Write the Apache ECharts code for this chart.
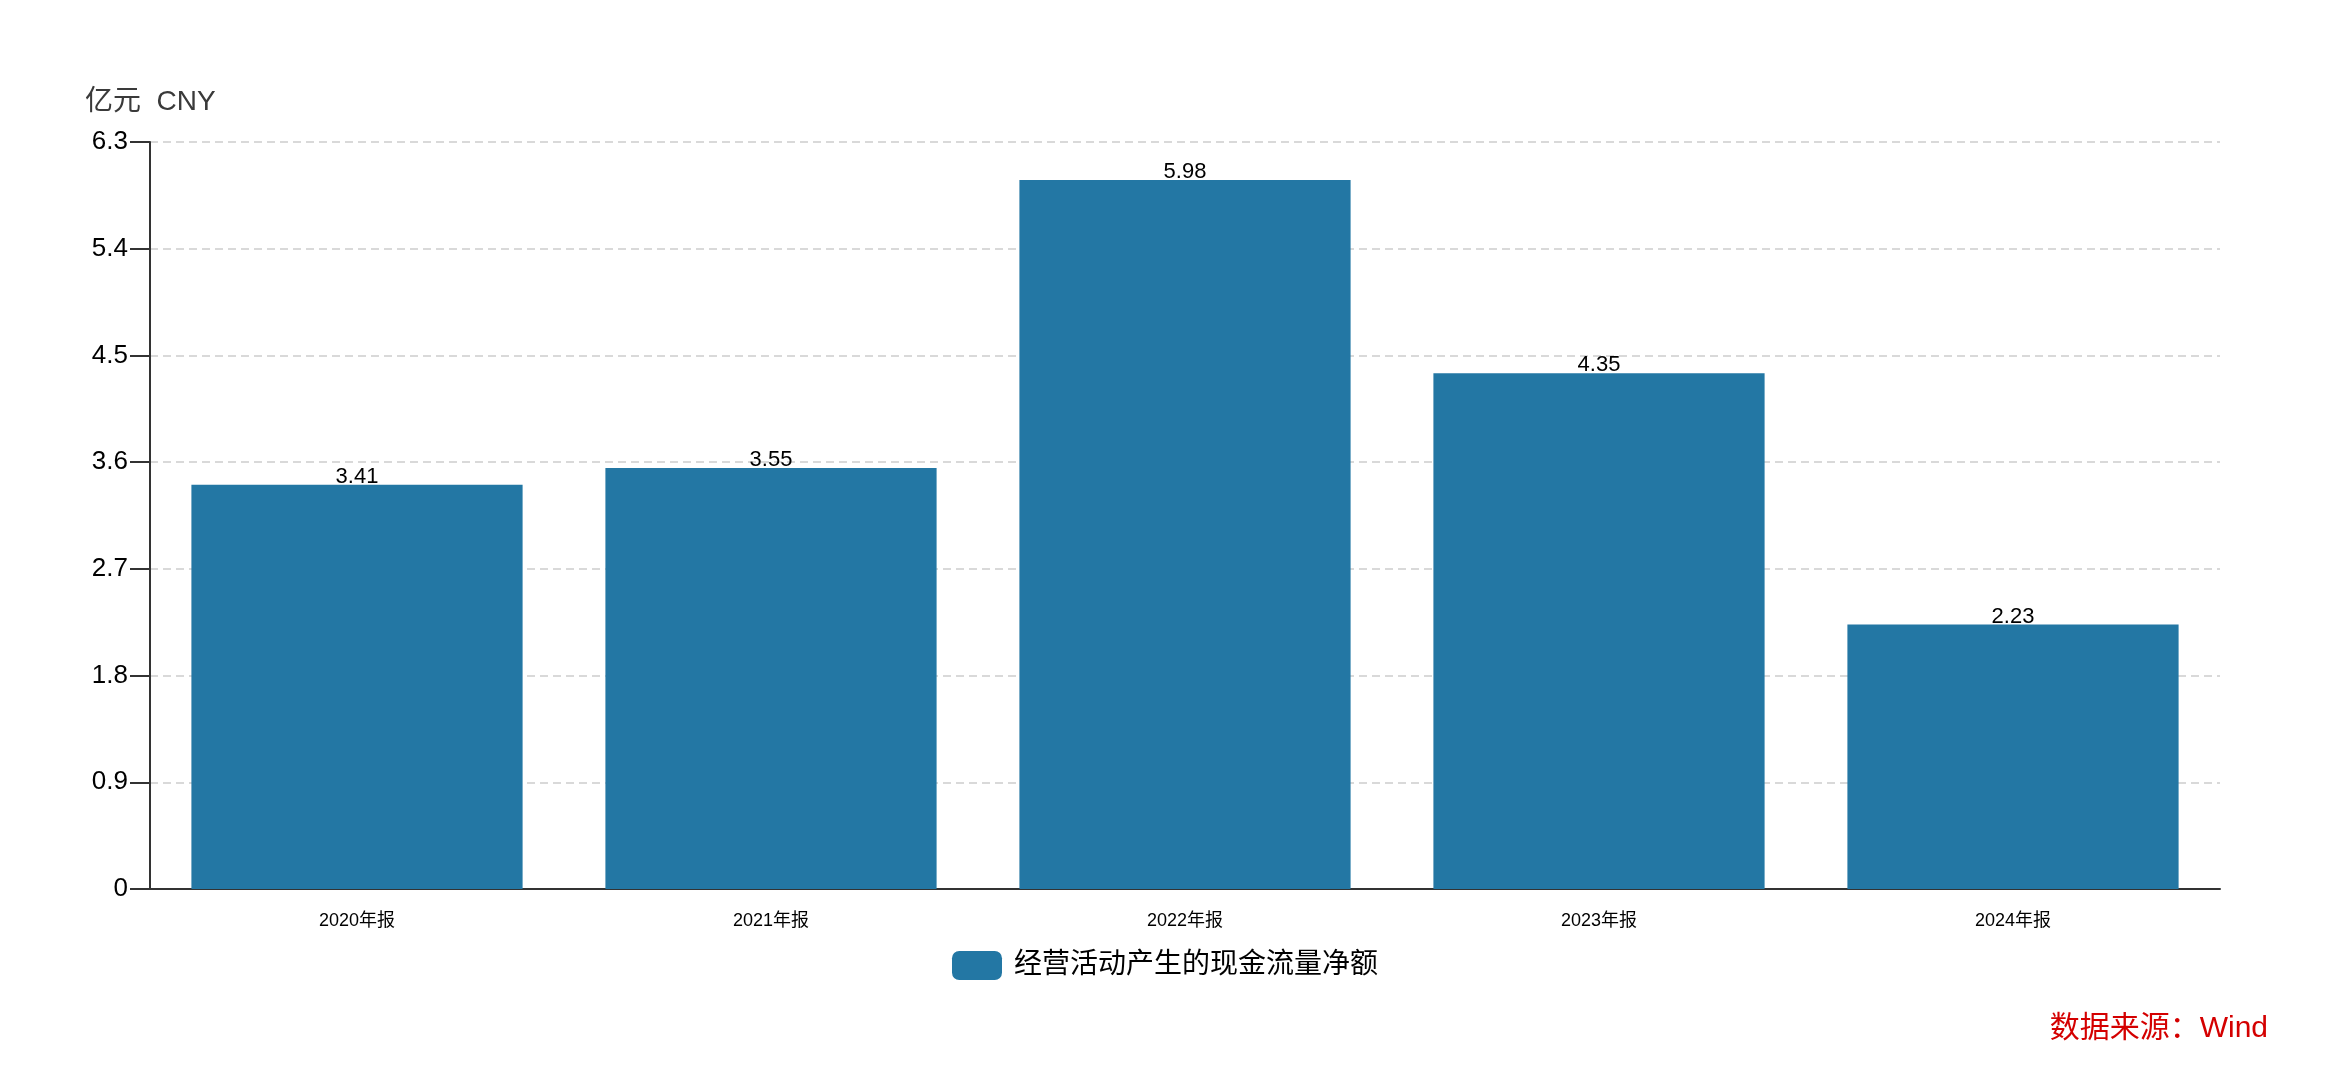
<!DOCTYPE html>
<html><head><meta charset="utf-8">
<script src="https://cdn.jsdelivr.net/npm/echarts@6/dist/echarts.min.js"></script>
<style>html,body{margin:0;padding:0;background:#fff}#c{width:2330px;height:1074px}</style>
</head><body><div id="c"></div>
<script>
const categories = ['2020年报','2021年报','2022年报','2023年报','2024年报'];
const values = [3.41, 3.55, 5.98, 4.35, 2.23];
const seriesName = '经营活动产生的现金流量净额';
const unitLabel = '亿元  CNY';
const sourceText = '数据来源：Wind';
const yMin = 0, yMax = 6.3, yStep = 0.9;

const FONT = '"Liberation Sans", Arial, "Noto Sans CJK SC", sans-serif';
const chart = echarts.init(document.getElementById('c'), null, {renderer:'canvas'});
chart.setOption({
  animation: false,
  backgroundColor: '#fff',
  textStyle: {fontFamily: FONT},
  graphic: [
    {type:'text', left: 85, top: 88, style:{text: unitLabel, font: '28px ' + FONT, fill:'#3a3a3a'}},
    {type:'text', right: 62, top: 1014, style:{text: sourceText, font: '30px ' + FONT, fill:'#d40000'}}
  ],
  legend: {
    data: [seriesName],
    bottom: 89, left: 'center',
    itemWidth: 50, itemHeight: 29, itemGap: 10,
    textStyle: {fontSize: 28, color: '#000', fontFamily: FONT, padding: [0, 0, 0, 7]},
    itemStyle: {borderRadius: 6}
  },
  grid: {left: 150, right: 110, top: 142, bottom: 185, containLabel: false},
  xAxis: {
    type: 'category', data: categories,
    axisLine: {lineStyle: {color: '#333', width: 2}},
    axisTick: {alignWithLabel: true, length: 18, lineStyle: {color: '#333', width: 2}},
    axisLabel: {color: '#000', fontSize: 18, margin: 23, fontFamily: FONT}
  },
  yAxis: {
    type: 'value', min: yMin, max: yMax, interval: yStep,
    axisLine: {show: true, lineStyle: {color: '#333', width: 2}},
    axisTick: {show: true, length: 20, lineStyle: {color: '#333', width: 2}},
    axisLabel: {color: '#000', fontSize: 26, margin: 22, fontFamily: FONT,
      formatter: v => String(+v.toFixed(1))},
    splitLine: {show: true, lineStyle: {color: '#d9d9d9', width: 2, type: [8, 5]}}
  },
  series: [{
    name: seriesName, type: 'bar', data: values,
    barCategoryGap: '20%',
    itemStyle: {color: '#2377a4'},
    label: {show: true, position: 'top', distance: -3, color: '#000', fontSize: 22, fontFamily: FONT,
      formatter: p => p.value.toFixed(2)}
  }]
});
</script></body></html>
